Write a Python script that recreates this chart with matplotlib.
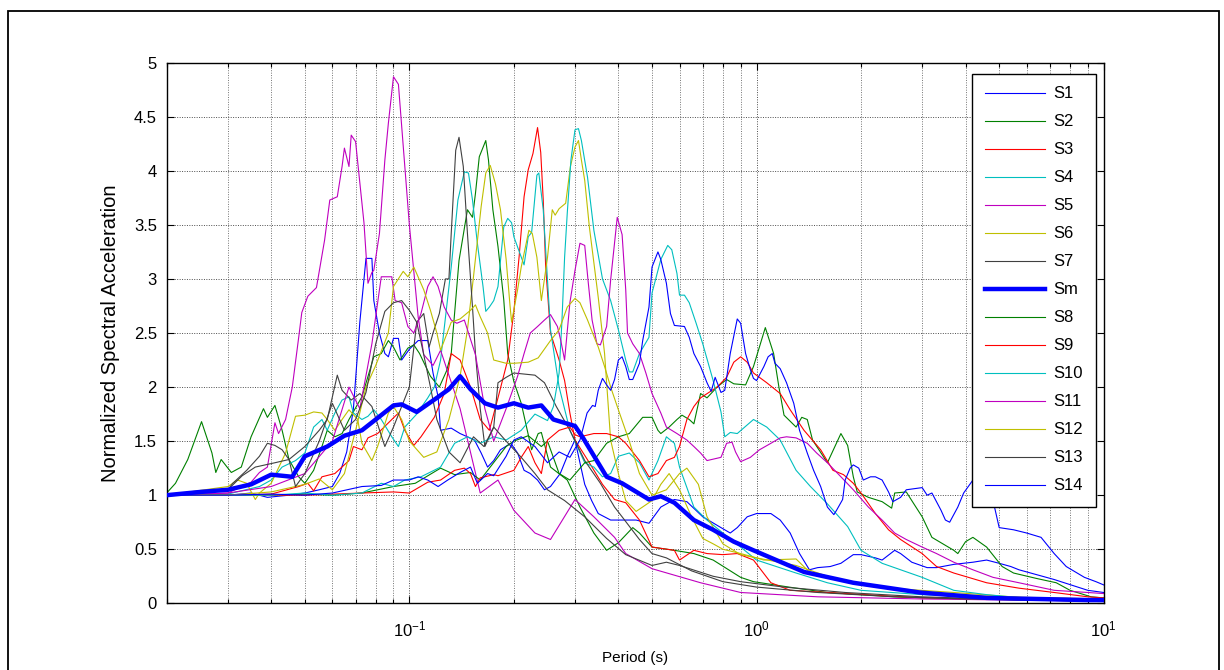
import matplotlib
matplotlib.use('Agg')
import matplotlib.pyplot as plt
from matplotlib.patches import Rectangle
from matplotlib.ticker import LogLocator, FixedLocator, FixedFormatter, NullFormatter

plt.rcParams['font.family'] = ['Liberation Sans', 'DejaVu Sans']

# ---------------- data: (period [s], normalized spectral acceleration) ----------------
S1 = [(0.02,1.0),(0.025,1.01),(0.03,1.0),(0.035,1.02),(0.039,0.98),(0.045,1.0),(0.05,1.02),(0.055,1.05),
      (0.06,1.08),(0.063,1.2),(0.066,1.4),(0.069,1.8),(0.072,2.6),(0.075,3.19),(0.078,3.19),(0.079,2.8),
      (0.082,2.5),(0.085,2.31),(0.087,2.28),(0.09,2.45),(0.093,2.45),(0.095,2.25),(0.1,2.35),(0.106,2.43),
      (0.113,2.43),(0.117,2.13),(0.121,1.91),(0.123,1.6),(0.132,1.62),(0.14,1.57),(0.147,1.54),(0.154,1.51),
      (0.161,1.39),(0.168,1.26),(0.175,1.32),(0.183,1.42),(0.196,1.48),(0.205,1.39),(0.214,1.23),(0.223,1.2),
      (0.234,1.14),(0.245,1.05),(0.255,1.08),(0.272,1.2),(0.285,1.36),(0.3,1.51),(0.31,1.3),(0.32,1.1),
      (0.335,0.95),(0.35,0.83),(0.38,0.77),(0.42,0.77),(0.45,0.77),(0.49,0.74),(0.53,0.89),(0.58,0.96),
      (0.63,0.94),(0.7,0.8),(0.79,0.7),(0.84,0.65),(0.88,0.7),(0.94,0.8),(1.0,0.83),(1.1,0.83),(1.17,0.77),
      (1.25,0.65),(1.33,0.46),(1.42,0.31),(1.5,0.33),(1.63,0.34),(1.75,0.37),(1.9,0.45),(2.0,0.45),(2.2,0.42),
      (2.3,0.4),(2.5,0.49),(2.6,0.46),(2.8,0.38),(3.1,0.33),(3.3,0.33),(3.7,0.36),(4.2,0.38),(4.6,0.4),
      (5.0,0.37),(5.4,0.34),(5.7,0.31),(7.2,0.22),(9.0,0.12),(10,0.1)]

S2 = [(0.02,1.02),(0.0212,1.11),(0.023,1.33),(0.0252,1.68),(0.027,1.39),(0.0277,1.21),(0.0287,1.33),
      (0.0307,1.21),(0.0328,1.26),(0.035,1.54),(0.038,1.8),(0.039,1.72),(0.041,1.83),(0.043,1.6),(0.045,1.33),
      (0.048,1.17),(0.05,1.11),(0.053,1.23),(0.056,1.45),(0.058,1.6),(0.061,1.54),(0.064,1.57),(0.067,1.7),
      (0.073,1.91),(0.079,2.28),(0.083,2.31),(0.087,2.43),(0.09,2.37),(0.094,2.25),(0.099,2.36),(0.103,2.39),
      (0.107,2.31),(0.115,2.1),(0.122,2.0),(0.128,2.15),(0.132,2.31),(0.139,3.17),(0.147,3.64),(0.152,3.57),
      (0.155,3.79),(0.159,4.13),(0.166,4.28),(0.169,4.1),(0.174,3.64),(0.18,3.3),(0.187,2.81),(0.192,2.31),
      (0.2,2.05),(0.21,1.85),(0.225,1.42),(0.235,1.57),(0.24,1.58),(0.255,1.26),(0.285,1.14),(0.31,0.89),
      (0.34,0.65),(0.37,0.49),(0.4,0.56),(0.44,0.7),(0.46,0.65),(0.5,0.52),(0.58,0.49),(0.66,0.46),(0.75,0.4),
      (0.9,0.24),(0.98,0.2),(1.3,0.14),(1.6,0.1),(2.5,0.06),(4.0,0.04),(10,0.02)]

S3 = [(0.02,1.0),(0.03,1.0),(0.04,1.01),(0.048,1.08),(0.051,1.11),(0.053,1.04),(0.056,1.17),(0.061,1.2),
      (0.067,1.32),(0.069,1.45),(0.073,1.42),(0.076,1.53),(0.081,1.57),(0.089,1.7),(0.093,1.76),(0.097,1.6),
      (0.103,1.46),(0.108,1.54),(0.118,1.72),(0.126,1.94),(0.132,2.31),(0.14,2.25),(0.15,2.0),(0.16,1.7),
      (0.17,1.6),(0.18,1.9),(0.192,2.25),(0.2,2.7),(0.207,3.2),(0.214,3.76),(0.22,4.01),(0.227,4.16),
      (0.234,4.4),(0.239,4.17),(0.243,3.73),(0.247,3.11),(0.255,2.5),(0.27,2.25),(0.28,2.06),(0.29,1.76),
      (0.3,1.51),(0.33,1.3),(0.36,1.1),(0.39,0.96),(0.42,0.93),(0.46,0.77),(0.5,0.52),(0.58,0.49),(0.6,0.4),
      (0.66,0.49),(0.72,0.46),(0.8,0.45),(0.88,0.46),(0.98,0.4),(1.1,0.19),(1.25,0.12),(1.6,0.1),(3.0,0.05),
      (10,0.02)]

S4 = [(0.02,1.0),(0.03,1.01),(0.037,1.08),(0.04,1.14),(0.043,1.26),(0.047,1.32),(0.05,1.39),(0.053,1.63),
      (0.056,1.7),(0.058,1.6),(0.061,1.76),(0.064,1.88),(0.067,1.91),(0.069,1.76),(0.073,1.7),(0.076,1.73),
      (0.079,1.79),(0.083,1.7),(0.089,1.54),(0.093,1.45),(0.097,1.63),(0.105,1.75),(0.113,1.9),(0.118,2.0),
      (0.123,2.25),(0.132,3.11),(0.138,3.73),(0.144,3.99),(0.148,3.98),(0.152,3.73),(0.157,3.33),(0.163,2.93),
      (0.166,2.7),(0.17,2.74),(0.175,2.8),(0.18,2.93),(0.187,3.48),(0.192,3.56),(0.197,3.52),(0.2,3.39),
      (0.214,3.13),(0.22,3.39),(0.225,3.43),(0.233,3.96),(0.236,3.98),(0.243,3.64),(0.255,2.53),(0.27,2.0),
      (0.29,1.6),(0.32,1.3),(0.34,1.26),(0.36,1.17),(0.38,1.2),(0.4,1.36),(0.43,1.39),(0.46,1.3),(0.49,1.14),
      (0.52,1.32),(0.55,1.54),(0.58,1.48),(0.6,1.26),(0.66,0.89),(0.72,0.77),(0.8,0.65),(0.9,0.52),(1.0,0.4),
      (1.3,0.28),(1.6,0.19),(2.0,0.12),(3.0,0.08),(5.0,0.05),(10,0.03)]

S5 = [(0.02,1.0),(0.03,1.02),(0.035,1.12),(0.037,1.21),(0.039,1.26),(0.041,1.67),(0.042,1.57),(0.044,1.7),
      (0.046,2.0),(0.048,2.46),(0.049,2.69),(0.051,2.84),(0.054,2.92),(0.057,3.36),(0.059,3.73),(0.062,3.76),
      (0.064,4.04),(0.065,4.21),(0.067,4.04),(0.068,4.33),(0.07,4.27),(0.074,3.52),(0.076,2.96),(0.078,3.06),
      (0.079,3.08),(0.082,3.42),(0.085,4.1),(0.087,4.44),(0.09,4.87),(0.093,4.8),(0.1,3.5),(0.106,2.65),
      (0.11,2.3),(0.117,2.2),(0.123,2.34),(0.14,1.8),(0.16,1.02),(0.18,1.14),(0.2,0.86),(0.23,0.65),
      (0.255,0.59),(0.3,0.96),(0.34,0.8),(0.39,0.61),(0.42,0.46),(0.5,0.32),(0.69,0.19),(0.9,0.1),(1.5,0.06),
      (3.0,0.04),(10,0.02)]

S6 = [(0.02,1.0),(0.03,1.08),(0.032,1.14),(0.034,1.11),(0.036,0.96),(0.037,1.02),(0.04,1.11),(0.044,1.39),
      (0.047,1.73),(0.05,1.74),(0.053,1.77),(0.056,1.76),(0.058,1.7),(0.061,1.6),(0.064,1.7),(0.067,1.79),
      (0.071,1.7),(0.073,1.48),(0.078,1.32),(0.081,1.45),(0.087,1.76),(0.09,1.82),(0.095,1.7),(0.1,1.5),
      (0.11,1.35),(0.12,1.4),(0.13,1.7),(0.14,2.1),(0.147,2.53),(0.153,3.02),(0.161,3.67),(0.166,3.98),
      (0.171,4.05),(0.177,3.88),(0.183,3.64),(0.19,3.18),(0.195,2.75),(0.197,2.6),(0.205,2.9),(0.21,3.11),
      (0.221,3.45),(0.226,3.42),(0.233,3.2),(0.24,2.8),(0.25,3.2),(0.258,3.64),(0.263,3.59),(0.27,3.65),
      (0.282,3.7),(0.291,4.04),(0.3,4.22),(0.307,4.28),(0.313,4.1),(0.32,3.91),(0.33,3.48),(0.35,2.83),
      (0.365,2.31),(0.38,1.51),(0.4,1.2),(0.42,0.95),(0.45,0.85),(0.5,0.95),(0.53,1.1),(0.56,1.2),(0.6,1.05),
      (0.65,0.8),(0.7,0.6),(0.75,0.55),(0.8,0.5),(0.9,0.46),(1.0,0.42),(1.05,0.4),(1.3,0.41),(1.43,0.28),
      (1.7,0.22),(1.9,0.19),(2.4,0.14),(3.7,0.1),(6.0,0.05),(10,0.04)]

S7 = [(0.02,1.0),(0.025,1.02),(0.03,1.05),(0.033,1.18),(0.036,1.26),(0.041,1.3),(0.045,1.33),(0.05,1.45),
      (0.055,1.6),(0.058,1.7),(0.062,2.11),(0.064,1.97),(0.068,1.88),(0.072,1.94),(0.078,1.82),(0.085,1.45),
      (0.09,1.63),(0.095,1.82),(0.1,2.0),(0.105,2.6),(0.11,2.68),(0.114,2.37),(0.117,2.5),(0.122,2.68),
      (0.127,3.0),(0.13,3.0),(0.132,3.42),(0.136,4.19),(0.139,4.31),(0.143,4.04),(0.147,3.42),(0.152,2.74),
      (0.155,2.31),(0.16,1.8),(0.165,1.45),(0.175,1.63),(0.18,2.04),(0.19,2.09),(0.2,2.13),(0.23,2.11),
      (0.245,2.04),(0.265,1.82),(0.29,1.6),(0.32,1.32),(0.355,1.11),(0.39,0.89),(0.41,0.8),(0.46,0.59),
      (0.5,0.46),(0.55,0.42),(0.65,0.3),(0.8,0.2),(1.0,0.15),(1.5,0.1),(2.5,0.06),(4.0,0.04),(10,0.02)]

Sm = [(0.02,1.0),(0.025,1.03),(0.03,1.05),(0.035,1.1),(0.04,1.19),(0.046,1.17),(0.05,1.36),(0.058,1.45),
      (0.065,1.55),(0.073,1.6),(0.08,1.7),(0.09,1.83),(0.095,1.84),(0.105,1.77),(0.12,1.9),(0.13,1.98),
      (0.14,2.1),(0.15,1.98),(0.165,1.85),(0.18,1.81),(0.2,1.85),(0.22,1.81),(0.24,1.83),(0.26,1.7),
      (0.3,1.64),(0.315,1.54),(0.37,1.17),(0.41,1.11),(0.49,0.96),(0.53,0.99),(0.58,0.93),(0.66,0.77),
      (0.75,0.68),(0.86,0.57),(0.98,0.49),(1.37,0.29),(1.9,0.19),(2.95,0.1),(4.6,0.05),(9.0,0.03),(10,0.03)]

S8 = [(0.02,1.0),(0.03,1.0),(0.04,1.0),(0.05,1.01),(0.06,1.0),(0.073,1.02),(0.09,1.08),(0.104,1.11),
      (0.123,1.25),(0.135,1.19),(0.15,1.21),(0.16,1.14),(0.17,1.25),(0.19,1.45),(0.2,1.5),(0.22,1.55),
      (0.24,1.45),(0.25,1.5),(0.27,1.2),(0.29,1.14),(0.32,1.3),(0.34,1.32),(0.37,1.48),(0.4,1.54),(0.43,1.57),
      (0.47,1.72),(0.5,1.72),(0.52,1.6),(0.53,1.57),(0.56,1.63),(0.59,1.7),(0.61,1.74),(0.64,1.7),(0.66,1.66),
      (0.69,1.94),(0.72,1.9),(0.77,2.0),(0.82,2.07),(0.86,2.03),(0.93,2.02),(0.98,2.19),(1.06,2.55),
      (1.12,2.31),(1.16,2.0),(1.2,1.74),(1.3,1.63),(1.35,1.72),(1.4,1.7),(1.45,1.51),(1.6,1.3),(1.75,1.57),
      (1.83,1.46),(1.9,1.17),(1.95,1.03),(2.1,0.98),(2.3,0.94),(2.45,0.88),(2.5,1.02),(2.7,1.03),(2.8,0.95),
      (3.0,0.8),(3.2,0.61),(3.7,0.49),(3.8,0.46),(4.0,0.57),(4.2,0.61),(4.6,0.52),(5.1,0.34),(5.5,0.28),
      (6.4,0.23),(7.3,0.19),(8.0,0.12),(9.2,0.06),(10,0.05)]

S9 = [(0.02,1.0),(0.05,1.0),(0.073,1.02),(0.09,1.03),(0.1,1.02),(0.113,1.12),(0.123,1.14),(0.135,1.23),
      (0.144,1.25),(0.15,1.2),(0.155,1.08),(0.16,1.16),(0.175,1.19),(0.18,1.18),(0.2,1.23),(0.21,1.35),
      (0.22,1.45),(0.23,1.3),(0.24,1.2),(0.25,1.51),(0.27,1.6),(0.29,1.63),(0.3,1.56),(0.31,1.54),(0.34,1.57),
      (0.37,1.57),(0.4,1.54),(0.42,1.48),(0.46,1.32),(0.49,1.17),(0.52,1.2),(0.55,1.32),(0.58,1.35),(0.6,1.45),
      (0.63,1.7),(0.66,1.82),(0.69,1.9),(0.77,2.0),(0.82,2.09),(0.86,2.23),(0.9,2.28),(0.94,2.23),(0.98,2.13),
      (1.07,2.04),(1.17,1.94),(1.25,1.79),(1.37,1.6),(1.53,1.42),(1.66,1.23),(1.78,1.19),(1.9,1.11),(2.0,1.02),
      (2.2,0.83),(2.4,0.68),(2.6,0.59),(3.0,0.46),(3.3,0.34),(3.7,0.28),(4.6,0.19),(5.7,0.14),(7.2,0.1),
      (9.0,0.06),(10,0.05)]

S10 = [(0.02,1.0),(0.04,1.0),(0.05,1.02),(0.06,1.0),(0.073,1.02),(0.083,1.11),(0.09,1.08),(0.097,1.14),
       (0.108,1.17),(0.123,1.26),(0.135,1.48),(0.147,1.54),(0.16,1.48),(0.175,1.54),(0.19,1.51),(0.21,1.6),
       (0.23,1.75),(0.25,1.69),(0.26,1.82),(0.27,2.13),(0.275,2.6),(0.28,3.2),(0.285,3.61),(0.292,4.1),
       (0.3,4.38),(0.307,4.39),(0.313,4.28),(0.326,3.94),(0.34,3.45),(0.36,3.0),(0.38,2.8),(0.4,2.53),
       (0.42,2.25),(0.43,2.14),(0.44,2.14),(0.46,2.31),(0.49,2.46),(0.5,2.87),(0.53,3.18),(0.555,3.31),
       (0.57,3.27),(0.59,3.05),(0.6,2.85),(0.62,2.85),(0.64,2.78),(0.67,2.59),(0.7,2.4),(0.75,2.06),
       (0.79,1.77),(0.81,1.54),(0.84,1.58),(0.88,1.57),(0.98,1.7),(1.07,1.63),(1.17,1.51),(1.3,1.23),
       (1.43,1.08),(1.6,0.92),(1.83,0.71),(2.0,0.49),(2.3,0.37),(2.6,0.31),(3.0,0.24),(3.7,0.12),(4.6,0.08),
       (5.8,0.05),(10,0.04)]

S11 = [(0.02,1.0),(0.03,1.02),(0.04,1.08),(0.05,1.2),(0.06,1.5),(0.067,2.0),(0.072,1.8),(0.078,2.4),
       (0.083,3.02),(0.089,3.02),(0.091,2.8),(0.095,2.78),(0.099,2.56),(0.103,2.5),(0.108,2.68),(0.113,2.93),
       (0.117,3.02),(0.121,2.93),(0.126,2.74),(0.132,2.62),(0.137,2.59),(0.144,2.62),(0.155,2.3),(0.165,1.8),
       (0.175,1.5),(0.19,1.8),(0.205,2.1),(0.214,2.31),(0.223,2.5),(0.234,2.56),(0.245,2.62),(0.255,2.67),
       (0.267,2.56),(0.273,2.43),(0.28,2.25),(0.29,2.78),(0.3,3.08),(0.31,3.33),(0.32,3.31),(0.327,2.99),
       (0.336,2.62),(0.347,2.4),(0.355,2.39),(0.37,2.56),(0.38,2.99),(0.397,3.57),(0.41,3.41),(0.42,2.9),
       (0.425,2.5),(0.44,2.4),(0.46,2.31),(0.48,2.13),(0.5,1.94),(0.53,1.76),(0.55,1.63),(0.59,1.57),
       (0.63,1.51),(0.66,1.45),(0.69,1.39),(0.72,1.32),(0.79,1.35),(0.82,1.48),(0.85,1.49),(0.87,1.4),
       (0.9,1.31),(0.96,1.35),(1.02,1.42),(1.1,1.48),(1.17,1.53),(1.22,1.54),(1.3,1.53),(1.4,1.48),(1.49,1.39),
       (1.6,1.3),(1.75,1.17),(1.9,1.05),(2.1,0.89),(2.3,0.77),(2.5,0.65),(2.7,0.59),(3.0,0.52),(3.3,0.46),
       (3.7,0.38),(4.2,0.31),(4.8,0.24),(5.7,0.19),(7.2,0.12),(9.0,0.1),(10,0.09)]

S12 = [(0.02,1.0),(0.03,1.0),(0.04,1.03),(0.05,1.1),(0.055,1.15),(0.06,1.05),(0.065,1.2),(0.07,1.6),
       (0.075,2.0),(0.08,2.2),(0.087,2.5),(0.09,2.93),(0.096,3.07),(0.099,3.02),(0.103,3.11),(0.11,2.9),
       (0.115,2.71),(0.12,2.5),(0.123,2.34),(0.132,2.6),(0.14,2.63),(0.15,2.71),(0.155,2.76),(0.16,2.65),
       (0.168,2.5),(0.175,2.25),(0.19,2.22),(0.2,2.22),(0.22,2.23),(0.235,2.27),(0.255,2.43),(0.27,2.53),
       (0.285,2.74),(0.3,2.82),(0.31,2.78),(0.326,2.62),(0.34,2.47),(0.35,2.37),(0.365,2.19),(0.38,2.0),
       (0.4,1.79),(0.43,1.5),(0.46,1.2),(0.5,1.0),(0.55,1.05),(0.6,1.2),(0.63,1.25),(0.68,1.1),(0.72,0.8),
       (0.8,0.55),(0.9,0.45),(1.0,0.42),(1.3,0.35),(1.6,0.25),(2.0,0.18),(3.0,0.1),(5.0,0.06),(10,0.04)]

S13 = [(0.02,1.0),(0.03,1.05),(0.031,1.11),(0.034,1.23),(0.037,1.36),(0.039,1.48),(0.041,1.46),(0.043,1.42),
       (0.045,1.33),(0.047,1.08),(0.05,1.2),(0.055,1.5),(0.06,1.85),(0.065,1.6),(0.07,1.7),(0.075,1.95),
       (0.08,2.4),(0.085,2.7),(0.09,2.78),(0.095,2.8),(0.1,2.71),(0.105,2.6),(0.11,2.3),(0.115,2.0),(0.12,1.7),
       (0.13,1.4),(0.14,1.3),(0.153,1.54),(0.164,1.45),(0.175,1.63),(0.19,1.5),(0.21,1.35),(0.23,1.2),
       (0.25,1.05),(0.28,0.95),(0.32,0.8),(0.37,0.6),(0.42,0.45),(0.5,0.35),(0.55,0.38),(0.6,0.35),(0.75,0.25),
       (0.9,0.2),(1.2,0.15),(1.8,0.1),(3.0,0.06),(6.0,0.03),(10,0.02)]

S14 = [(0.02,1.0),(0.03,1.0),(0.04,1.01),(0.05,1.0),(0.06,1.02),(0.073,1.08),(0.083,1.09),(0.09,1.14),
       (0.1,1.14),(0.106,1.17),(0.113,1.14),(0.121,1.08),(0.129,1.14),(0.14,1.21),(0.15,1.26),(0.157,1.11),
       (0.168,1.2),(0.175,1.18),(0.19,1.36),(0.2,1.51),(0.21,1.54),(0.23,1.45),(0.25,1.3),(0.27,1.4),
       (0.29,1.35),(0.31,1.51),(0.325,1.76),(0.337,1.83),(0.343,1.82),(0.35,1.97),(0.36,2.08),(0.37,2.02),
       (0.38,1.97),(0.39,2.07),(0.4,2.25),(0.41,2.28),(0.42,2.19),(0.43,2.07),(0.44,2.07),(0.46,2.22),
       (0.47,2.43),(0.49,2.74),(0.5,3.11),(0.52,3.25),(0.53,3.18),(0.55,2.96),(0.565,2.68),(0.58,2.57),
       (0.62,2.56),(0.64,2.46),(0.66,2.31),(0.69,2.19),(0.72,2.04),(0.74,1.96),(0.76,2.09),(0.79,1.95),
       (0.81,1.97),(0.84,2.31),(0.88,2.63),(0.9,2.59),(0.93,2.31),(0.96,2.16),(0.98,2.08),(1.0,2.06),
       (1.05,2.19),(1.08,2.28),(1.11,2.31),(1.13,2.22),(1.17,2.17),(1.22,2.04),(1.28,1.85),(1.33,1.6),
       (1.4,1.39),(1.46,1.23),(1.53,1.08),(1.6,0.89),(1.67,0.82),(1.7,0.86),(1.77,0.96),(1.8,1.14),(1.86,1.25),
       (1.9,1.28),(1.97,1.25),(2.03,1.14),(2.13,1.17),(2.2,1.17),(2.3,1.14),(2.4,1.03),(2.47,0.94),(2.6,0.98),
       (2.7,1.05),(3.0,1.07),(3.1,1.0),(3.2,1.02),(3.4,0.86),(3.5,0.77),(3.6,0.75),(3.8,0.89),(3.95,1.02),
       (4.2,1.14),(4.5,1.2),(4.8,0.95),(5.0,0.7),(5.5,0.68),(6.0,0.65),(6.6,0.61),(7.2,0.46),(7.8,0.34),
       (8.8,0.24),(9.5,0.2),(10,0.17)]

series_names = ["S1", "S2", "S3", "S4", "S5", "S6", "S7", "Sm",
                "S8", "S9", "S10", "S11", "S12", "S13", "S14"]
series_data = [S1, S2, S3, S4, S5, S6, S7, Sm, S8, S9, S10, S11, S12, S13, S14]

y_ticks = [0, 0.5, 1, 1.5, 2, 2.5, 3, 3.5, 4, 4.5, 5]
y_tick_labels = ["0", "0.5", "1", "1.5", "2", "2.5", "3", "3.5", "4", "4.5", "5"]
x_ticks = [0.1, 1, 10]
x_tick_labels = [r"$\mathdefault{10^{-1}}$", r"$\mathdefault{10^{0}}$", r"$\mathdefault{10^{1}}$"]

# ---------------- style ----------------
matlab = {"b": (0, 0, 1), "g": (0, 0.5, 0), "r": (1, 0, 0), "c": (0, 0.75, 0.75),
          "m": (0.75, 0, 0.75), "y": (0.75, 0.75, 0), "k": (0.25, 0.25, 0.25)}
cycle = ["b", "g", "r", "c", "m", "y", "k"]

W, H = 1224, 670
fig = plt.figure(figsize=(W / 100, H / 100), dpi=100)
fig.patch.set_facecolor("white")

# outer frame of the figure
fig.patches.append(Rectangle((8 / W, -0.05), (1219 - 8) / W, 1 - 11 / H + 0.05,
                             transform=fig.transFigure, fill=False, edgecolor="black",
                             linewidth=1.3, clip_on=False))

ax_l, ax_r, ax_t, ax_b = 166.7, 1103.7, 62.7, 603.3
ax = fig.add_axes([ax_l / W, 1 - ax_b / H, (ax_r - ax_l) / W, (ax_b - ax_t) / H])

handles = []
for i, (name, data) in enumerate(zip(series_names, series_data)):
    T = [p[0] for p in data]
    A = [p[1] for p in data]
    if name == "Sm":
        ln, = ax.plot(T, A, color=(0, 0, 1), lw=3.2, solid_joinstyle="round", zorder=3)
    else:
        ln, = ax.plot(T, A, color=matlab[cycle[i % 7]], lw=0.8, zorder=2)
    handles.append(ln)

ax.set_xscale("log")
ax.set_xlim(0.02, 10)
ax.set_ylim(0, 5)

ax.yaxis.set_major_locator(FixedLocator(y_ticks))
ax.yaxis.set_major_formatter(FixedFormatter(y_tick_labels))
ax.xaxis.set_major_locator(FixedLocator(x_ticks))
ax.xaxis.set_major_formatter(FixedFormatter(x_tick_labels))
ax.xaxis.set_minor_locator(LogLocator(base=10, subs=[2, 3, 4, 5, 6, 7, 8, 9]))
ax.xaxis.set_minor_formatter(NullFormatter())

ax.grid(True, which="major", linestyle=(0, (1, 1.5)), color="0.3", linewidth=0.7)
ax.grid(True, which="minor", axis="x", linestyle=(0, (1, 1.5)), color="0.45", linewidth=0.7)
ax.set_axisbelow(True)

ax.tick_params(axis="both", which="both", direction="in", top=True, right=True,
               labelsize=12, colors="black")
ax.tick_params(axis="both", which="major", length=5, width=0.8)
ax.tick_params(axis="x", which="minor", length=3, width=0.8)
ax.tick_params(axis="y", which="major", pad=7)
ax.tick_params(axis="x", which="major", pad=12)
for s in ax.spines.values():
    s.set_linewidth(1.0)
    s.set_color("black")

ax.set_xlabel("Period (s)", fontsize=11, labelpad=8)
ax.set_ylabel("Normalized Spectral Acceleration", fontsize=14.5, labelpad=10)

leg = ax.legend(handles, series_names, loc="upper right",
                bbox_to_anchor=((1096 - ax_l) / (ax_r - ax_l), (ax_b - 73.5) / (ax_b - ax_t)),
                borderaxespad=0, fontsize=12, frameon=True, fancybox=False, framealpha=1,
                edgecolor="black", handlelength=3.6, handletextpad=0.5, labelspacing=0.78,
                borderpad=0.78)
leg.get_frame().set_linewidth(1.0)
leg.set_zorder(10)

fig.savefig("out.png", dpi=100, facecolor="white")
